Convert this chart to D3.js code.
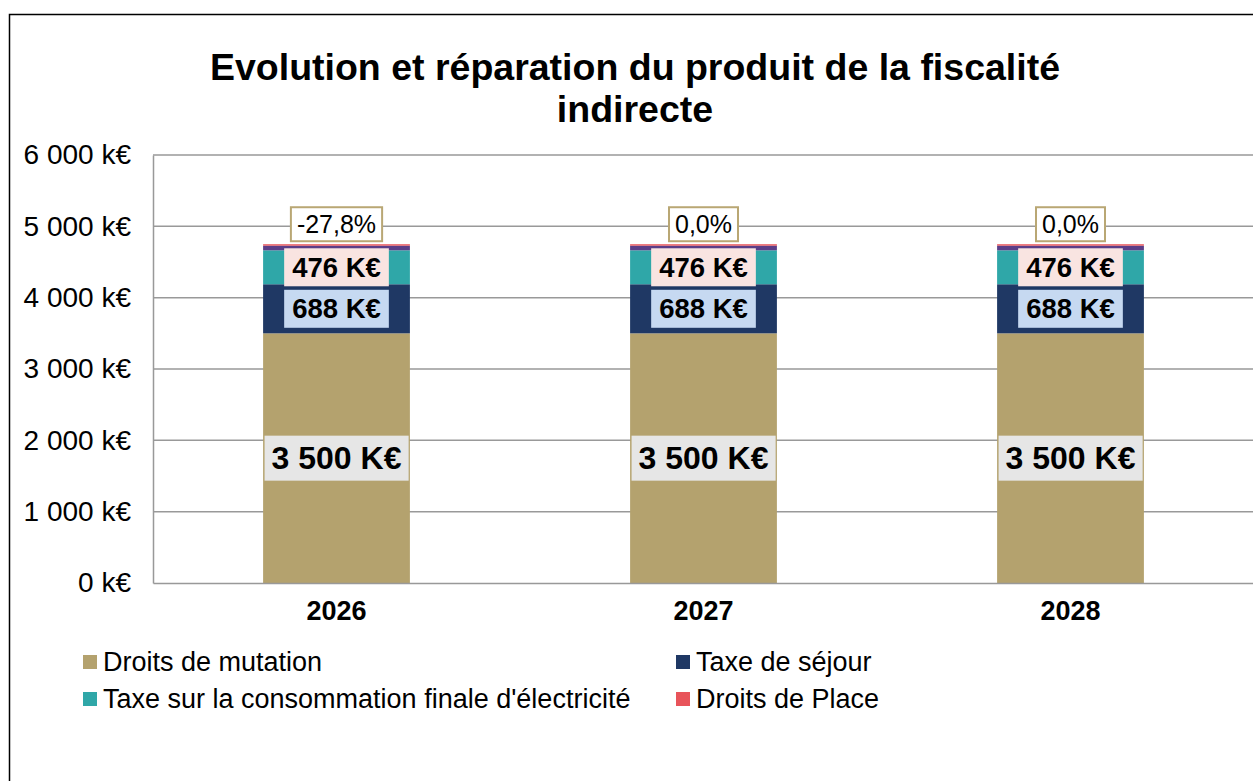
<!DOCTYPE html>
<html>
<head>
<meta charset="utf-8">
<script src="https://cdn.jsdelivr.net/npm/d3@7"></script>
<style>
  body { margin: 0; background: #fff; }
  svg { font-family: Arial, "Liberation Sans", sans-serif; }
</style>
</head>
<body>
<svg id="chart" width="1253" height="781"></svg>
<script>
// data
const years = ['2026', '2027', '2028'];
const mutation = [3500, 3500, 3500];
const sejour = [688, 688, 688];
const electricite = [476, 476, 476];
const autre = [65, 65, 65];
const place = [20, 20, 20];
const evolution = ['-27,8%', '0,0%', '0,0%'];
const yTicks = [0, 1000, 2000, 3000, 4000, 5000, 6000];

const series = [
  { name: 'Droits de mutation', values: mutation, color: '#b4a26e', label: { bg: '#e6e6e6', size: 32, h: 45 } },
  { name: 'Taxe de séjour', values: sejour, color: '#1f3864', label: { bg: '#c6d9f1', size: 27.5, h: 38 } },
  { name: "Taxe sur la consommation finale d'électricité", values: electricite, color: '#2fa7a8', label: { bg: '#f9e4e1', size: 27.5, h: 38 } },
  { name: '', values: autre, color: '#5a3e88' },
  { name: 'Droits de Place', values: place, color: '#e8545a' }
];

const svg = d3.select('#chart');

// outer frame
svg.append('rect')
  .attr('x', 9.5).attr('y', 14.5)
  .attr('width', 1300).attr('height', 800)
  .attr('fill', 'none').attr('stroke', '#000').attr('stroke-width', 1.5);

// title
const title = svg.append('text')
  .attr('text-anchor', 'middle')
  .attr('font-size', 37.5).attr('font-weight', 'bold');
title.append('tspan').attr('x', 635).attr('y', 80).text('Evolution et réparation du produit de la fiscalité');
title.append('tspan').attr('x', 635).attr('y', 122).text('indirecte');

const plotLeft = 153, plotRight = 1254, plotTop = 155, plotBottom = 583;

const x = d3.scaleBand().domain(years).range([plotLeft, plotRight]).paddingInner(0.6).paddingOuter(0.3);
const y = d3.scaleLinear().domain([0, 6000]).range([plotBottom, plotTop]);

// gridlines
svg.append('g')
  .selectAll('line')
  .data(yTicks.filter(d => d > 0))
  .enter().append('line')
  .attr('x1', plotLeft).attr('x2', 1253)
  .attr('y1', d => y(d)).attr('y2', d => y(d))
  .attr('stroke', '#999').attr('stroke-width', 1.5);

// y axis
const yAxis = svg.append('g')
  .attr('transform', `translate(${plotLeft},0)`)
  .call(d3.axisLeft(y).tickValues(yTicks).tickSize(0).tickPadding(22)
    .tickFormat(d => d3.format(',')(d).replace(/,/g, ' ') + ' k€'));
yAxis.select('.domain').attr('stroke', '#999').attr('stroke-width', 1.5);
yAxis.selectAll('text').attr('font-size', 28).attr('fill', '#000').attr('font-family', 'Arial, "Liberation Sans", sans-serif');

// stacked bars
const rows = years.map((yr, i) => {
  const r = { year: yr };
  series.forEach((s, k) => { r['s' + k] = s.values[i]; });
  return r;
});
const stack = d3.stack().keys(series.map((s, k) => 's' + k))(rows);

const layers = svg.append('g').selectAll('g')
  .data(stack)
  .enter().append('g')
  .attr('fill', (d, k) => series[k].color);

layers.selectAll('rect')
  .data(d => d)
  .enter().append('rect')
  .attr('x', d => x(d.data.year))
  .attr('width', x.bandwidth())
  .attr('y', d => y(d[1]))
  .attr('height', d => y(d[0]) - y(d[1]));

// x axis
const xAxis = svg.append('g')
  .attr('transform', `translate(0,${plotBottom})`)
  .call(d3.axisBottom(x).tickSize(0).tickPadding(18));
xAxis.select('.domain').attr('stroke', '#999').attr('stroke-width', 1.5);
xAxis.selectAll('text').attr('font-size', 27).attr('font-weight', 'bold').attr('fill', '#000')
  .attr('font-family', 'Arial, "Liberation Sans", sans-serif');

// value labels
stack.forEach((layer, k) => {
  const s = series[k];
  if (!s.label) return;
  layer.forEach(d => {
    const cx = x(d.data.year) + x.bandwidth() / 2;
    const cy = (y(d[0]) + y(d[1])) / 2;
    const txt = d3.format(',')(d[1] - d[0]).replace(/,/g, ' ') + ' K€';
    const g = svg.append('g');
    const t = g.append('text')
      .attr('x', cx).attr('y', cy)
      .attr('text-anchor', 'middle').attr('dominant-baseline', 'central')
      .attr('font-size', s.label.size).attr('font-weight', 'bold')
      .text(txt);
    const bb = t.node().getBBox();
    const padX = k === 0 ? 7 : 8;
    g.insert('rect', 'text')
      .attr('x', bb.x - padX).attr('y', cy - s.label.h / 2)
      .attr('width', bb.width + padX * 2).attr('height', s.label.h)
      .attr('fill', s.label.bg);
  });
});

// evolution labels above bars
years.forEach((yr, i) => {
  const cx = x(yr) + x.bandwidth() / 2;
  const total = d3.sum(series, s => s.values[i]);
  const cy = y(total) - 20;
  const g = svg.append('g');
  const t = g.append('text')
    .attr('x', cx).attr('y', cy)
    .attr('text-anchor', 'middle').attr('dominant-baseline', 'central')
    .attr('font-size', 25)
    .text(evolution[i]);
  const bb = t.node().getBBox();
  g.insert('rect', 'text')
    .attr('x', bb.x - 6).attr('y', cy - 17)
    .attr('width', bb.width + 12).attr('height', 34)
    .attr('fill', '#fff').attr('stroke', '#b9a774').attr('stroke-width', 2);
});

// legend
const legendItems = [
  { s: series[0], x: 83, y: 662 },
  { s: series[1], x: 676, y: 662 },
  { s: series[2], x: 83, y: 699 },
  { s: series[4], x: 676, y: 699 }
];
const lg = svg.append('g').selectAll('g')
  .data(legendItems)
  .enter().append('g')
  .attr('transform', d => `translate(${d.x},${d.y})`);
lg.append('rect')
  .attr('x', 0).attr('y', -7).attr('width', 14).attr('height', 14)
  .attr('fill', d => d.s.color);
lg.append('text')
  .attr('x', 20).attr('y', 0)
  .attr('dominant-baseline', 'central')
  .attr('font-size', 27)
  .text(d => d.s.name);
</script>
</body>
</html>
